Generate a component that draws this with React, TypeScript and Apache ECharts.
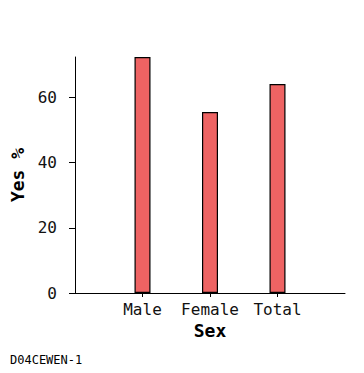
import React, { useEffect, useRef } from "react";
import * as echarts from "echarts";

const categories = ["", "Male", "Female", "Total", ""];
const values: (number | string)[] = ["-", 72.4, 55.5, 64.1, "-"];
const yTicks = [0, 20, 40, 60];
const yMax = 72.4;
const footer = "D04CEWEN-1";

const MONO = "'DejaVu Sans Mono', monospace";

export default function App() {
  const ref = useRef<HTMLDivElement>(null);
  useEffect(() => {
    if (!ref.current) return;
    const chart = echarts.init(ref.current, null, { renderer: "svg" });
    chart.setOption({
      animation: false,
      grid: { left: 75, right: 19, top: 57, bottom: 80, containLabel: false },
      xAxis: {
        type: "category",
        data: categories,
        boundaryGap: false,
        name: "Sex",
        nameLocation: "middle",
        nameGap: 25,
        nameTextStyle: { fontFamily: MONO, fontSize: 18, fontWeight: "bold", color: "#000" },
        axisLine: { show: true, lineStyle: { color: "#000", width: 1 } },
        axisTick: {
          show: true,
          length: 4,
          lineStyle: { color: "#000" },
          interval: (_i: number, v: string) => v !== "",
        },
        axisLabel: { fontFamily: MONO, fontSize: 16, color: "#111", margin: 8, interval: 0 },
        splitLine: { show: false },
      },
      yAxis: {
        type: "value",
        min: 0,
        max: yMax,
        interval: 20,
        name: "Yes %",
        nameLocation: "middle",
        nameGap: 45,
        nameTextStyle: { fontFamily: MONO, fontSize: 18, fontWeight: "bold", color: "#000" },
        axisLine: { show: true, lineStyle: { color: "#000", width: 1 } },
        axisTick: { show: true, length: 6, lineStyle: { color: "#000" }, customValues: yTicks },
        axisLabel: { fontFamily: MONO, fontSize: 16, color: "#111", margin: 18, customValues: yTicks },
        splitLine: { show: false },
      },
      series: [
        {
          type: "bar",
          data: values,
          barWidth: 16,
          itemStyle: { color: "#EE6363", borderColor: "#000", borderWidth: 1.2 },
        },
      ],
      graphic: [
        {
          type: "text",
          left: 10,
          top: 354,
          style: { text: footer, font: `12px ${MONO}`, fill: "#000" },
        },
      ],
    });
    return () => chart.dispose();
  }, []);
  return <div ref={ref} style={{ width: 364, height: 373, margin: -8 }} />;
}
